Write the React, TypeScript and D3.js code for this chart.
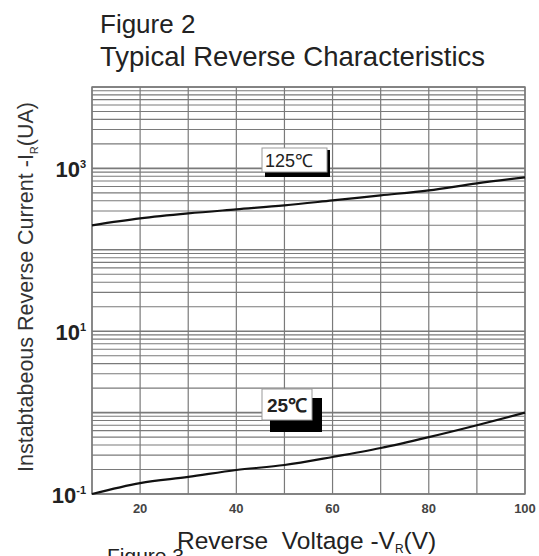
import React from "react";
import * as d3 from "d3";

const voltage = [10, 20, 30, 40, 50, 60, 70, 80, 90, 100];
const current125 = [200, 243, 280, 314, 351, 404, 466, 537, 655, 775];
const current25 = [0.1, 0.136, 0.162, 0.197, 0.227, 0.285, 0.367, 0.5, 0.7, 1.0];
const xTickLabels = [20, 40, 60, 80, 100];
const yTickLabels = [
  { v: 0.1, exp: "-1" },
  { v: 10, exp: "1" },
  { v: 1000, exp: "3" },
];
const seriesLabels = ["125\u2103", "25\u2103"];

const W = 539;
const H = 556;
const FONT = "'Liberation Sans', Arial, sans-serif";

export default function App() {
  const x = d3.scaleLinear().domain([10, 100]).range([92, 525]);
  const y = d3.scaleLog().domain([0.1, 10000]).range([494, 87]);
  const xGrid = d3.range(10, 101, 10);
  const yGrid = y.ticks();
  const line = d3
    .line<number>()
    .x((_, i) => x(voltage[i]))
    .y((d) => y(d))
    .curve(d3.curveMonotoneX);
  const grid = "#7a7a7a";

  return (
    <svg
      width={W}
      height={H}
      style={{ position: "absolute", left: 0, top: 0, background: "#fff" }}
      fontFamily={FONT}
    >
      <rect x={0} y={0} width={W} height={H} fill="#fff" />
      <text x={100} y={33} fontSize={26} fill="#222">Figure 2</text>
      <text x={100} y={66} fontSize={27.5} fill="#222">Typical Reverse Characteristics</text>

      {yGrid.map((v, i) => (
        <line
          key={"h" + i}
          x1={x(10)}
          x2={x(100)}
          y1={y(v)}
          y2={y(v)}
          stroke={grid}
          strokeWidth={Math.abs(Math.log10(v) - Math.round(Math.log10(v))) < 1e-6 ? 1.6 : 1.1}
        />
      ))}
      {xGrid.map((v) => (
        <line key={"v" + v} x1={x(v)} x2={x(v)} y1={y(10000)} y2={y(0.1)} stroke={grid} strokeWidth={1.2} />
      ))}
      <rect
        x={x(10)}
        y={y(10000)}
        width={x(100) - x(10)}
        height={y(0.1) - y(10000)}
        fill="none"
        stroke={grid}
        strokeWidth={1.4}
      />

      <path d={line(current125) || ""} fill="none" stroke="#111" strokeWidth={2.2} />
      <path d={line(current25) || ""} fill="none" stroke="#111" strokeWidth={2.2} />

      <g>
        <rect x={265} y={150} width={65} height={27} fill="#000" />
        <rect x={262} y={148} width={65} height={24} fill="#fff" stroke="#999" strokeWidth={1} />
        <text x={289} y={167} fontSize={18} textAnchor="middle" fill="#222">
          {seriesLabels[0]}
        </text>
      </g>
      <g>
        <rect x={270} y={398} width={52} height={34} fill="#000" />
        <rect x={262} y={389} width={50} height={31} fill="#fff" stroke="#999" strokeWidth={1} />
        <text x={287} y={412} fontSize={19} fontWeight="bold" textAnchor="middle" fill="#222">
          {seriesLabels[1]}
        </text>
      </g>

      {xTickLabels.map((v) => (
        <text key={"xt" + v} x={x(v)} y={513} fontSize={13} fontWeight="bold" textAnchor="middle" fill="#444">
          {v}
        </text>
      ))}
      {yTickLabels.map((t) => (
        <text key={"yt" + t.v} x={86} y={y(t.v) + 9} fontSize={22} fontWeight="bold" textAnchor="end" fill="#222">
          10
          <tspan fontSize={11} dy={-9}>{t.exp}</tspan>
        </text>
      ))}

      <text x={177} y={549} fontSize={24.5} fill="#222">
        Reverse{"\u00a0"} Voltage -V
        <tspan fontSize={12} dy={4}>R</tspan>
        <tspan dy={-4}>(V)</tspan>
      </text>
      <text x={107} y={563} fontSize={21} fill="#222">Figure 3</text>

      <text
        transform={`translate(33, 287) rotate(-90)`}
        textAnchor="middle"
        fontSize={21.5}
        fill="#333"
      >
        Instabtabeous Reverse Current -I
        <tspan fontSize={11} dy={5}>R</tspan>
        <tspan dy={-5}>(UA)</tspan>
      </text>
    </svg>
  );
}
